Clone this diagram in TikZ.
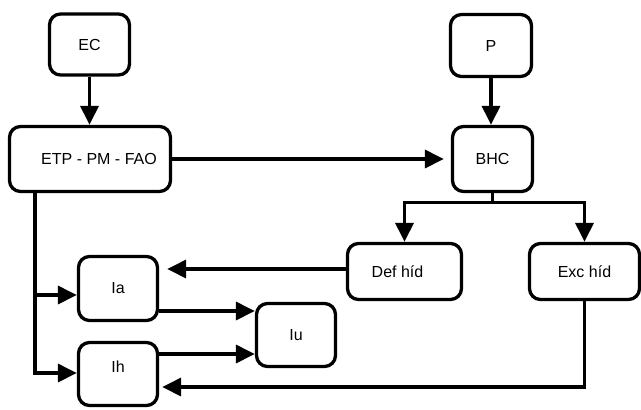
\documentclass[tikz,border=0pt]{standalone}
\usepackage{fontspec}
\setmainfont{Liberation Sans}
\usetikzlibrary{arrows.meta,calc}
\begin{document}
\begin{tikzpicture}[x=1pt,y=-1pt,
  box/.style={draw,line width=3.3pt,rounded corners=11pt,inner sep=0pt,
    font=\fontsize{16}{19}\selectfont},
  arr/.style={line width=3.3pt,-{Triangle[length=19pt,width=18pt]}},
  ln/.style={line width=3.3pt}]
\useasboundingbox (0,0) rectangle (641,410);
\node[box,minimum width=80pt,minimum height=61pt] (EC) at (89.5,44.5) {EC};
\node[box,minimum width=81pt,minimum height=62pt] (P) at (491,45.5) {P};
\node[box,minimum width=161pt,minimum height=65pt] (ETP) at (90,159) {\hspace*{18pt}ETP - PM - FAO};
\node[box,minimum width=80pt,minimum height=65pt] (BHC) at (492.5,159) {BHC};
\node[box,minimum width=114pt,minimum height=56pt] (Def) at (404.5,271.5) {Def híd\hspace*{14pt}};
\node[box,minimum width=110pt,minimum height=56pt] (Exc) at (584.5,271.5) {Exc híd};
\node[box,minimum width=79pt,minimum height=64pt] (Ia) at (118,288.5) {Ia};
\node[box,minimum width=79pt,minimum height=63pt] (Ih) at (118,374) {\raisebox{15pt}{Ih}};
\node[box,minimum width=79pt,minimum height=63pt] (Iu) at (296,335) {Iu};
% top arrows
\draw[arr] (EC.south) -- (EC.south |- ETP.north);
\draw[arr] (P.south) -- (P.south |- BHC.north);
\draw[arr,shorten >=7pt] (ETP.east) -- (BHC.west);
% BHC split
\coordinate (split) at ($(BHC.south)+(0,9)$);
\draw[ln] (BHC.south) -- (split);
\draw[arr] (split) -| (Def.north);
\draw[arr] (split) -| (Exc.north);
% Def -> Ia
\draw[arr,shorten >=8pt] (Def.west |- 0,269) -- (Ia.east |- 0,269);
% Ia, Ih -> Iu
\draw[arr] (Ia.east |- 0,311) -- (Iu.west |- 0,311);
\draw[arr] (Ih.east |- 0,354) -- (Iu.west |- 0,354);
% trunk from ETP
\coordinate (trunk) at (ETP.south -| 35,0);
\draw[arr] (trunk) |- (Ih.west |- 0,373);
\draw[arr] (trunk |- 0,295) -- (Ia.west |- 0,295);
% Exc -> Ih
\draw[arr,shorten >=3pt] (Exc.south) |- (Ih.east |- 0,387);
\end{tikzpicture}
\end{document}
